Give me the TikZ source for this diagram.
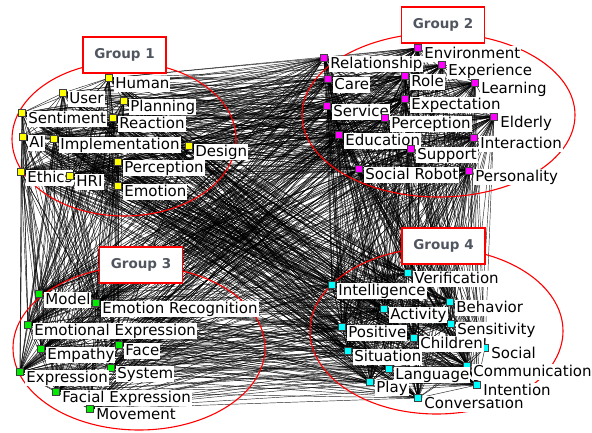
\documentclass[tikz,border=0pt]{standalone}
\usepackage{fontspec}
\setmainfont{DejaVu Sans}

\pgfdeclarelayer{links}
\pgfdeclarelayer{rings}
\pgfsetlayers{links,rings,main}

\definecolor{grptext}{RGB}{80,85,95}
\definecolor{vyellow}{RGB}{255,255,0}
\definecolor{vmagenta}{RGB}{255,0,255}
\definecolor{vgreen}{RGB}{0,235,0}
\definecolor{vcyan}{RGB}{0,255,255}

\tikzset{
  vtx/.style={rectangle, draw=black!75, line width=0.4pt, minimum size=7pt, inner sep=0pt},
  yel/.style={vtx, fill=vyellow},
  mag/.style={vtx, fill=vmagenta},
  grn/.style={vtx, fill=vgreen},
  cyn/.style={vtx, fill=vcyan},
  lbl/.style={fill=white, inner sep=1pt, anchor=north west,
    text height=11pt, text depth=3pt, font=\fontsize{15}{18}\selectfont},
  link/.style={line width=0.45pt, black, opacity=0.85},
  grpring/.style={draw=red, line width=1.1pt},
  grpbox/.style={draw=red, line width=1.1pt, fill=white, minimum width=83pt,
    minimum height=36pt, inner sep=0pt, text=grptext,
    font=\fontsize{13.5}{15}\selectfont\bfseries}
}

% keyword = coloured marker + label to its lower right
\newcommand{\kw}[5]{%
  \node[#4] (#1) at (#2,#3) {};
  \node[lbl] (#1-t) at ([xshift=1.5pt,yshift=2pt]#1.east) {#5};
}

\def\keywords{human,user,planning,sentiment,reaction,ai,implementation,design,
  perceptionA,ethics,hri,emotion,
  environment,relationship,experience,care,role,learning,service,expectation,
  perceptionB,elderly,education,interaction,support,socialrobot,personality,
  model,emorecog,emoexpr,system,empathy,face,expression,facialexpr,movement,
  verification,intelligence,behavior,activity,sensitivity,positive,social,
  children,situation,communication,language,play,intention,conversation}

\begin{document}
\begin{tikzpicture}[x=1pt,y=-1pt]
  \useasboundingbox (0,0) rectangle (592,433);

  % Group 1
  \kw{human}{109}{78}{yel}{Human}
  \kw{user}{63}{93}{yel}{User}
  \kw{planning}{124}{101}{yel}{Planning}
  \kw{sentiment}{22}{113}{yel}{Sentiment}
  \kw{reaction}{113}{118}{yel}{Reaction}
  \kw{ai}{23}{137}{yel}{AI}
  \kw{implementation}{54}{139}{yel}{Implementation}
  \kw{design}{189}{146}{yel}{Design}
  \kw{perceptionA}{118}{162}{yel}{Perception}
  \kw{ethics}{21}{172}{yel}{Ethics}
  \kw{hri}{70}{176}{yel}{HRI}
  \kw{emotion}{118}{186}{yel}{Emotion}

  % Group 2
  \kw{environment}{418}{48}{mag}{Environment}
  \kw{relationship}{324}{58}{mag}{Relationship}
  \kw{experience}{442}{65}{mag}{Experience}
  \kw{care}{328}{79}{mag}{Care}
  \kw{role}{405}{76}{mag}{Role}
  \kw{learning}{475}{83}{mag}{Learning}
  \kw{service}{327}{106}{mag}{Service}
  \kw{expectation}{405}{99}{mag}{Expectation}
  \kw{perceptionB}{385}{118}{mag}{Perception}
  \kw{elderly}{494}{117}{mag}{Elderly}
  \kw{education}{339}{135}{mag}{Education}
  \kw{interaction}{474}{138}{mag}{Interaction}
  \kw{support}{411}{149}{mag}{Support}
  \kw{socialrobot}{359}{169}{mag}{Social Robot}
  \kw{personality}{469}{171}{mag}{Personality}

  % Group 3
  \kw{model}{39}{294}{grn}{Model}
  \kw{emorecog}{96}{303}{grn}{Emotion Recognition}
  \kw{emoexpr}{28}{325}{grn}{Emotional Expression}
  \kw{system}{111}{368}{grn}{System}
  \kw{empathy}{41}{349}{grn}{Empathy}
  \kw{face}{119}{345}{grn}{Face}
  \kw{expression}{20}{372}{grn}{Expression}
  \kw{facialexpr}{56}{392}{grn}{Facial Expression}
  \kw{movement}{90}{409}{grn}{Movement}

  % Group 4
  \kw{verification}{408}{273}{cyn}{Verification}
  \kw{intelligence}{332}{285}{cyn}{Intelligence}
  \kw{behavior}{450}{302}{cyn}{Behavior}
  \kw{activity}{384}{309}{cyn}{Activity}
  \kw{sensitivity}{451}{324}{cyn}{Sensitivity}
  \kw{positive}{342}{327}{cyn}{Positive}
  \kw{social}{485}{348}{cyn}{Social}
  \kw{children}{414}{338}{cyn}{Children}
  \kw{situation}{348}{351}{cyn}{Situation}
  \kw{communication}{467}{366}{cyn}{Communication}
  \kw{language}{389}{369}{cyn}{Language}
  \kw{conversation}{418}{398}{cyn}{Conversation}
  \kw{play}{370}{382}{cyn}{Play}
  \kw{intention}{477}{385}{cyn}{Intention}

  % co-occurrence links, every pair
  \begin{pgfonlayer}{links}
    \fill[white] (0,0) rectangle (592,433);
    \foreach \a [count=\i] in \keywords {
      \foreach \b [count=\j] in \keywords {
        \ifnum\j>\i \draw[link] (\a) -- (\b); \fi
      }
    }
  \end{pgfonlayer}

  % cluster outlines
  \begin{pgfonlayer}{rings}
    \draw[grpring] (124,139) ellipse [x radius=112pt, y radius=77pt];
    \draw[grpring] (438.5,115) ellipse [x radius=136.5pt, y radius=82pt];
    \draw[grpring] (139,348) ellipse [x radius=126pt, y radius=82pt];
    \draw[grpring] (436.5,331) ellipse [x radius=126.5pt, y radius=83pt];
  \end{pgfonlayer}

  % group titles
  \node[grpbox] (g1) at (124.5,55) {Group 1};
  \node[grpbox] (g2) at (443,25) {Group 2};
  \node[grpbox] (g3) at (141,265) {Group 3};
  \node[grpbox] (g4) at (443.5,246) {Group 4};
\end{tikzpicture}
\end{document}
